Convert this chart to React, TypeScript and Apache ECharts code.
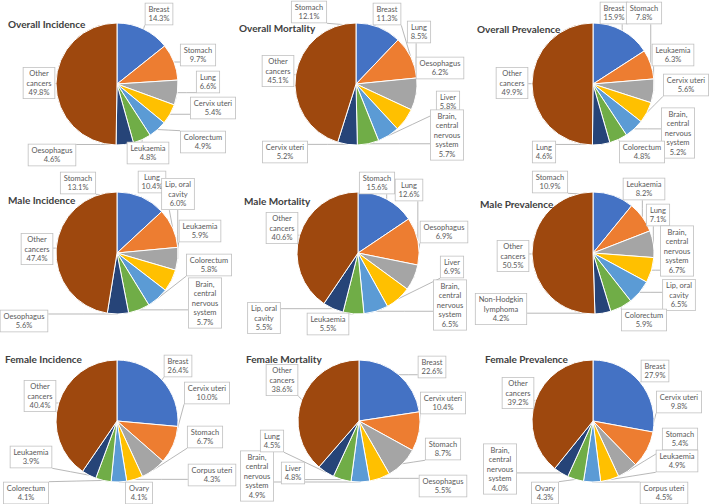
import React, { useEffect, useRef } from "react";
import * as echarts from "echarts";

// ---------- data ----------
const panelTitles = [
  "Overall Incidence", "Overall Mortality", "Overall Prevalence",
  "Male Incidence", "Male Mortality", "Male Prevalence",
  "Female Incidence", "Female Mortality", "Female Prevalence",
];

const overallIncidenceNames = ["Breast", "Stomach", "Lung", "Cervix uteri", "Colorectum", "Leukaemia", "Oesophagus", "Other cancers"];
const overallIncidenceValues = [14.3, 9.7, 6.6, 5.4, 4.9, 4.8, 4.6, 49.8];

const overallMortalityNames = ["Stomach", "Breast", "Lung", "Oesophagus", "Liver", "Brain, central nervous system", "Cervix uteri", "Other cancers"];
const overallMortalityValues = [12.1, 11.3, 8.5, 6.2, 5.8, 5.7, 5.2, 45.1];

const overallPrevalenceNames = ["Breast", "Stomach", "Leukaemia", "Cervix uteri", "Brain, central nervous system", "Colorectum", "Lung", "Other cancers"];
const overallPrevalenceValues = [15.9, 7.8, 6.3, 5.6, 5.2, 4.8, 4.6, 49.9];

const maleIncidenceNames = ["Stomach", "Lung", "Lip, oral cavity", "Leukaemia", "Colorectum", "Brain, central nervous system", "Oesophagus", "Other cancers"];
const maleIncidenceValues = [13.1, 10.4, 6.0, 5.9, 5.8, 5.7, 5.6, 47.4];

const maleMortalityNames = ["Stomach", "Lung", "Oesophagus", "Liver", "Brain, central nervous system", "Leukaemia", "Lip, oral cavity", "Other cancers"];
const maleMortalityValues = [15.6, 12.6, 6.9, 6.9, 6.5, 5.5, 5.5, 40.6];

const malePrevalenceNames = ["Stomach", "Leukaemia", "Lung", "Brain, central nervous system", "Lip, oral cavity", "Colorectum", "Non-Hodgkin lymphoma", "Other cancers"];
const malePrevalenceValues = [10.9, 8.2, 7.1, 6.7, 6.5, 5.9, 4.2, 50.5];

const femaleIncidenceNames = ["Breast", "Cervix uteri", "Stomach", "Corpus uteri", "Ovary", "Colorectum", "Leukaemia", "Other cancers"];
const femaleIncidenceValues = [26.4, 10.0, 6.7, 4.3, 4.1, 4.1, 3.9, 40.4];

const femaleMortalityNames = ["Breast", "Cervix uteri", "Stomach", "Oesophagus", "Brain, central nervous system", "Liver", "Lung", "Other cancers"];
const femaleMortalityValues = [22.6, 10.4, 8.7, 5.5, 4.9, 4.8, 4.5, 38.6];

const femalePrevalenceNames = ["Breast", "Cervix uteri", "Stomach", "Leukaemia", "Corpus uteri", "Ovary", "Brain, central nervous system", "Other cancers"];
const femalePrevalenceValues = [27.9, 9.8, 5.4, 4.9, 4.5, 4.3, 4.0, 39.2];

const panelNames = [
  overallIncidenceNames, overallMortalityNames, overallPrevalenceNames,
  maleIncidenceNames, maleMortalityNames, malePrevalenceNames,
  femaleIncidenceNames, femaleMortalityNames, femalePrevalenceNames,
];
const panelValues = [
  overallIncidenceValues, overallMortalityValues, overallPrevalenceValues,
  maleIncidenceValues, maleMortalityValues, malePrevalenceValues,
  femaleIncidenceValues, femaleMortalityValues, femalePrevalenceValues,
];

// ---------- layout & style ----------
const sliceColors = ["#4472C4", "#ED7D31", "#A5A5A5", "#FFC000", "#5B9BD5", "#70AD47", "#264478", "#9E480E"];

const labelWrap: Record<string, string> = {
  "Other cancers": "Other\ncancers",
  "Brain, central nervous system": "Brain,\ncentral\nnervous\nsystem",
  "Lip, oral cavity": "Lip, oral\ncavity",
  "Non-Hodgkin lymphoma": "Non-Hodgkin\nlymphoma",
};

const pieCenters = [
  [117, 84], [356, 84], [593, 84],
  [117, 253], [358, 253], [593, 253],
  [117, 421], [359, 421], [593, 421],
];
const pieRadius = 61;

const titlePos = [
  [8, 25], [239, 29], [477, 30],
  [8, 201], [244, 202], [480, 205],
  [5, 360], [246, 360], [485, 360],
];

// label box centres, in slice order
const labelPos = [
  [[159, 14], [198, 55], [208, 82], [213, 108], [203, 142], [148, 153], [52, 155], [39, 83]],
  [[309, 12], [387, 14], [419, 32], [440, 68], [448, 102], [447, 135], [285, 152], [278, 71]],
  [[614, 13], [644, 13], [673, 55], [686, 85], [678, 133], [642, 152], [544, 152], [512, 83]],
  [[78, 183], [152, 182], [178, 194], [200, 231], [209, 265], [205, 303], [24, 321], [37, 249]],
  [[377, 183], [409, 190], [444, 232], [452, 267], [450, 305], [328, 324], [264, 318], [282, 228]],
  [[550, 182], [644, 189], [658, 215], [677, 251], [679, 295], [644, 320], [501, 309], [513, 256]],
  [[178, 366], [207, 393], [205, 437], [212, 475], [139, 493], [26, 493], [31, 457], [40, 396]],
  [[432, 367], [443, 403], [443, 449], [443, 486], [257, 476], [293, 473], [272, 441], [282, 380]],
  [[655, 371], [679, 402], [680, 439], [677, 461], [664, 493], [545, 493], [500, 469], [518, 393]],
];

const FONT = "Lato, 'Noto Sans', sans-serif";

function midPoint(panel: number, idx: number): number[] {
  const vals = panelValues[panel];
  const total = vals.reduce((a, b) => a + b, 0);
  let cum = 0;
  for (let i = 0; i < idx; i++) cum += vals[i];
  const a = ((cum + vals[idx] / 2) / total) * Math.PI * 2;
  const [cx, cy] = pieCenters[panel];
  return [cx + pieRadius * Math.sin(a), cy - pieRadius * Math.cos(a)];
}

export default function App() {
  const ref = useRef<HTMLDivElement>(null);

  useEffect(() => {
    document.body.style.margin = "0";
    if (!ref.current) return;
    const chart = echarts.init(ref.current, undefined, { renderer: "svg" });

    const titles = panelTitles.map((t, i) => ({
      text: t,
      left: titlePos[i][0],
      top: titlePos[i][1] - 6,
      padding: 0,
      z: 10,
      textStyle: { fontSize: 10, fontWeight: "bold", color: "#404040", fontFamily: FONT },
    }));

    const series = panelNames.map((names, p) => ({
      type: "pie",
      center: pieCenters[p],
      radius: pieRadius,
      startAngle: 90,
      clockwise: true,
      avoidLabelOverlap: false,
      silent: true,
      itemStyle: { borderColor: "#ffffff", borderWidth: 1 },
      label: {
        show: true,
        position: "outside",
        fontFamily: FONT,
        fontSize: 7.5,
        lineHeight: 9.5,
        color: "#595959",
        align: "center",
        backgroundColor: "#ffffff",
        borderColor: "#bfbfbf",
        borderWidth: 0.8,
        padding: [1, 3],
        formatter: (prm: any) => `${labelWrap[prm.name] ?? prm.name}\n${Number(prm.value).toFixed(1)}%`,
      },
      labelLine: { show: true, length: 6, length2: 4, lineStyle: { color: "#a6a6a6", width: 0.8 } },
      labelLayout: (prm: any) => {
        const pos = labelPos[p][prm.dataIndex];
        const w = prm.labelRect.width;
        const h = prm.labelRect.height;
        const p0 = midPoint(p, prm.dataIndex);
        const ex = Math.min(Math.max(p0[0], pos[0] - w / 2), pos[0] + w / 2);
        const ey = Math.min(Math.max(p0[1], pos[1] - h / 2), pos[1] + h / 2);
        return {
          x: pos[0],
          y: pos[1],
          align: "center",
          verticalAlign: "middle",
          labelLinePoints: [p0, [(p0[0] + ex) / 2, (p0[1] + ey) / 2], [ex, ey]],
        };
      },
      data: names.map((n, i) => ({
        name: n,
        value: panelValues[p][i],
        itemStyle: { color: sliceColors[i] },
      })),
    }));

    chart.setOption({
      animation: false,
      backgroundColor: "#ffffff",
      title: titles,
      series,
    });

    return () => chart.dispose();
  }, []);

  return <div ref={ref} style={{ width: 709, height: 504 }} />;
}
